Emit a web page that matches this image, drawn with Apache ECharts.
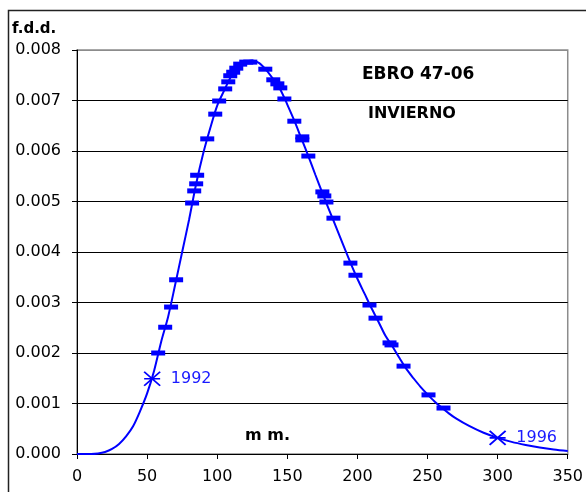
<!DOCTYPE html>
<html><head><meta charset="utf-8">
<script src="https://cdn.jsdelivr.net/npm/echarts@6/dist/echarts.min.js"></script>
<style>html,body{margin:0;padding:0;background:#fff}#c{width:586px;height:492px}</style>
</head><body><div id="c"></div>
<script>
// Fitted density curve (mm, f.d.d.)
const curveX = [0,10,15,20,25,30,35,40,45,50,55,60,65,70,75,80,85,90,95,100,105,110,115,120,125,130,135,140,145,150,155,160,165,170,175,180,185,190,195,200,205,210,215,220,225,230,235,240,245,250,255,260,265,270,280,290,300,310,320,330,340,350];
const curveY = [0,0,0.00001,0.00004,0.0001,0.0002,0.00035,0.00055,0.00085,0.0012,0.00165,0.00222,0.00272,0.00335,0.004,0.00465,0.00535,0.00595,0.00645,0.0069,0.0072,0.00748,0.00765,0.00776,0.00779,0.00774,0.0076,0.00742,0.00722,0.00692,0.0066,0.00625,0.0059,0.00553,0.00517,0.00482,0.00448,0.00413,0.00379,0.00347,0.00318,0.00289,0.00262,0.00234,0.00213,0.0019,0.00168,0.0015,0.00133,0.00118,0.00104,0.00092,0.00081,0.00071,0.00055,0.00042,0.00032,0.00024,0.00018,0.00013,0.00009,0.00006];
// Observed winter values (dash markers)
const obsX = [57.9,62.9,67.1,70.7,82.1,83.6,85.0,85.7,92.9,98.6,101.4,105.7,107.9,109.3,111.4,113.6,116.4,120.7,123.6,134.3,140.0,142.9,145.0,147.9,155.0,160.7,160.7,165.0,175.0,176.4,177.9,182.9,195.0,198.6,208.6,212.9,222.9,224.3,232.9,250.7,261.4];
const obsY = [0.0020,0.00251,0.00291,0.00345,0.00497,0.00521,0.00535,0.00552,0.00624,0.00673,0.00699,0.00723,0.00737,0.00749,0.00756,0.00764,0.00772,0.00776,0.00776,0.00762,0.00741,0.00733,0.00725,0.00703,0.00659,0.00628,0.00622,0.0059,0.00519,0.00511,0.00499,0.00467,0.00378,0.00354,0.00295,0.00269,0.0022,0.00216,0.00174,0.00117,0.00091];
// Highlighted years
const yearNames = ['1992','1996'];
const yearX = [53.6,300];
const yearY = [0.00149,0.00032];
const xTicks = [0,50,100,150,200,250,300,350];
const yTicks = [0,0.001,0.002,0.003,0.004,0.005,0.006,0.007,0.008];

const blue = '#0000ff';
const FONT = 'DejaVu Sans';
const chart = echarts.init(document.getElementById('c'), null, {renderer:'canvas'});
chart.setOption({
  animation:false,
  backgroundColor:'#fff',
  grid:{left:77,top:50,right:18,bottom:38,show:true,borderColor:'#8c8c8c',borderWidth:1.5,backgroundColor:'transparent'},
  xAxis:{type:'value',min:xTicks[0],max:xTicks[xTicks.length-1],interval:50,
    axisLine:{show:true,onZero:false,lineStyle:{color:'#000',width:1}},
    axisTick:{show:true,inside:false,length:5,lineStyle:{color:'#000'}},
    axisLabel:{margin:15,color:'#000',fontFamily:FONT,fontSize:16},
    splitLine:{show:false}},
  yAxis:{type:'value',min:yTicks[0],max:yTicks[yTicks.length-1],interval:0.001,
    axisLine:{show:true,lineStyle:{color:'#000',width:1}},
    axisTick:{show:true,inside:false,length:5,lineStyle:{color:'#000'}},
    axisLabel:{margin:16,color:'#000',fontFamily:FONT,fontSize:16,formatter:v=>v.toFixed(3)},
    splitLine:{show:true,lineStyle:{color:['#000','#000','#000','#000','#000','#000','#000','#000','#8c8c8c'],width:1}}},
  series:[
    {type:'line',data:curveX.map((x,i)=>[x,curveY[i]]),showSymbol:false,smooth:0.3,
      lineStyle:{color:blue,width:2,opacity:1},z:2},
    {type:'scatter',data:obsX.map((x,i)=>[x,obsY[i]]),symbol:'rect',symbolSize:[14,5],
      itemStyle:{color:blue,opacity:1},z:3},
    {type:'scatter',data:yearX.map((x,i)=>({value:[x,yearY[i]],name:yearNames[i]})),
      symbol:'path://M0,0L16,14M0,14L16,0M0,7L16,7',symbolSize:[16,14],
      itemStyle:{color:'none',borderColor:blue,borderWidth:1.8,opacity:1},
      label:{show:true,position:'right',distance:8,formatter:p=>p.name,color:'#1a1aff',fontFamily:FONT,fontSize:16},z:4}
  ],
  graphic:[
    {type:'rect',shape:{x:8.5,y:10.5,width:640,height:540},style:{fill:'none',stroke:'#222',lineWidth:1.5},silent:true},
    {type:'text',left:12,top:22,style:{text:'f.d.d.',font:'bold 15px "DejaVu Sans"',fill:'#000'}},
    {type:'text',left:362,top:66,style:{text:'EBRO 47-06',font:'bold 17px "DejaVu Sans"',fill:'#000'}},
    {type:'text',left:368,top:106,style:{text:'INVIERNO',font:'bold 16px "DejaVu Sans"',fill:'#000'}},
    {type:'text',left:245,top:428,style:{text:'m m.',font:'bold 16px "DejaVu Sans"',fill:'#000'}}
  ]
});
</script></body></html>
